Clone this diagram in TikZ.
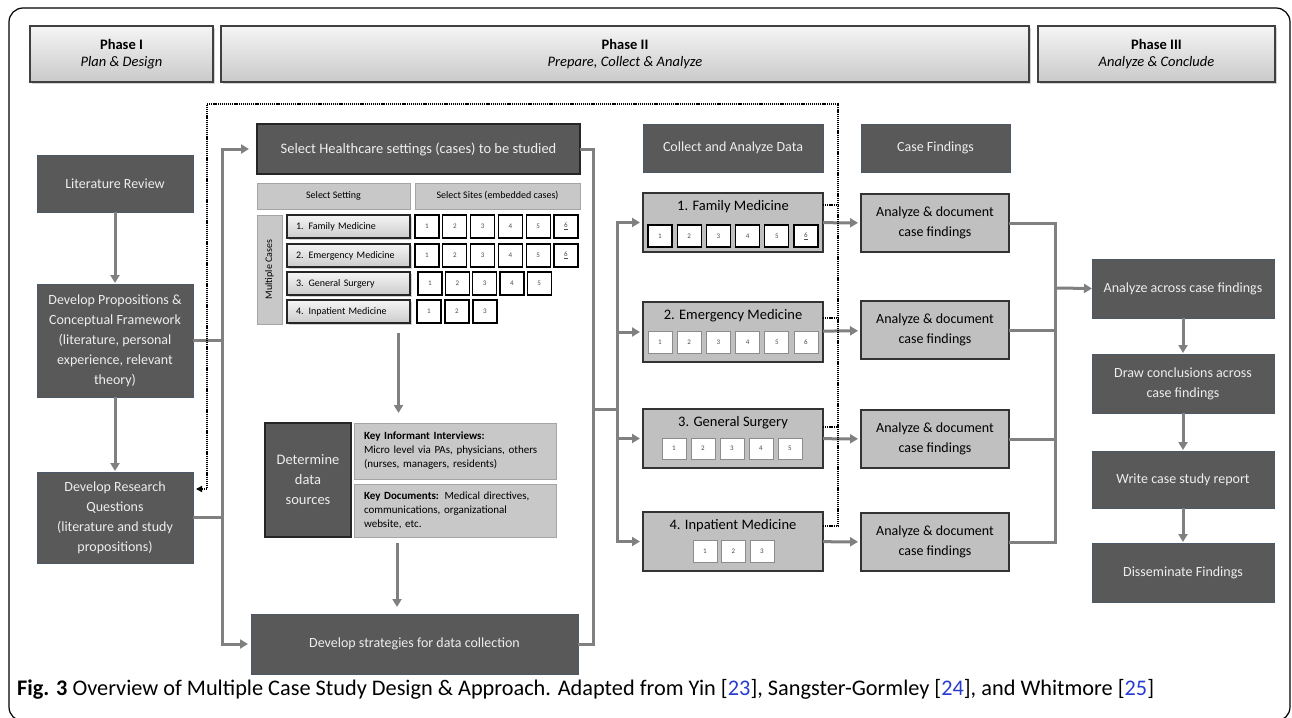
\documentclass[tikz,border=0pt]{standalone}
\usepackage{fontspec}
\setmainfont{Carlito}
\usetikzlibrary{arrows.meta,shadows,calc}
\definecolor{dk}{RGB}{89,89,89}
\definecolor{dkedge}{RGB}{75,88,104}
\definecolor{txtl}{RGB}{238,238,238}
\definecolor{lg}{RGB}{192,192,192}
\definecolor{lgtwo}{RGB}{200,200,200}
\definecolor{lgedge}{RGB}{165,165,165}
\definecolor{conncol}{RGB}{128,128,128}
\definecolor{refblue}{RGB}{40,60,210}
\begin{document}
\begin{tikzpicture}[x=1pt,y=-1pt,
  base/.style={inner sep=0pt, outer sep=0pt, align=center, anchor=north west},
  sz/.style 2 args={minimum width=#1pt, minimum height=#2pt},
  darkbox/.style={base, draw=dkedge, line width=0.8pt, fill=dk, text=txtl, font=\fontsize{14}{20}\selectfont},
  darkbk/.style={darkbox, draw=black!85, line width=1.4pt},
  phasebox/.style={base, draw=black!75, line width=1.2pt, top color=gray!8, bottom color=gray!42,
     drop shadow={opacity=0.35, shadow xshift=1.5pt, shadow yshift=-2pt}, font=\fontsize{14.5}{17.5}\selectfont},
  casebox/.style={base, draw=black!80, line width=1.3pt, fill=lg},
  selhead/.style={base, draw=lgedge, line width=0.8pt, fill=lgtwo, font=\fontsize{10}{11}\selectfont},
  btn/.style={base, draw=black!85, line width=1.4pt, top color=gray!8, bottom color=gray!40,
     drop shadow={opacity=0.35, shadow xshift=1.5pt, shadow yshift=-1.5pt},
     font=\fontsize{10}{12}\selectfont, align=left, text width=105pt, inner xsep=9pt, minimum height=23pt},
  sq/.style={base, draw=black, line width=1.3pt, fill=white, sz={24}{23}, font=\fontsize{7}{8}\selectfont, text=black!70},
  sqg/.style={sq, draw=black!45, line width=0.8pt, sz={24}{22}},
  conn/.style={draw=conncol, line width=3pt},
  arr/.style={conn, -{Triangle[length=8pt,width=9pt]}, shorten >=3pt},
  dots/.style={draw=black, line width=2pt, dash pattern=on 1.2pt off 0.9pt},
  info/.style={base, draw=lgedge, line width=0.8pt, fill=lgtwo, align=left, text width=182pt, inner xsep=10pt,
     font=\fontsize{11}{14}\selectfont}
]
\useasboundingbox (0,0) rectangle (1292,717);
\fill[white] (0,0) rectangle (1292,717);
\begin{scope}
\clip (0,0) rectangle (1292,717);
\draw[line width=1.2pt, rounded corners=14pt] (9,8) rectangle (1290,721);
\end{scope}

% phases
\node[phasebox, sz={183}{56}] (ph1) at (30,26) {\textbf{Phase I}\\\textit{Plan \& Design}};
\node[phasebox, sz={808}{56}] (ph2) at (221,26) {\textbf{Phase II}\\\textit{Prepare, Collect \& Analyze}};
\node[phasebox, sz={237}{56}] (ph3) at (1038,26) {\textbf{Phase III}\\\textit{Analyze \& Conclude}};

% phase I
\node[darkbox, sz={156}{57}] (lr) at (37,155) {Literature Review};
\node[darkbox, sz={156}{113}] (dp) at (37,284) {Develop Propositions \&\\Conceptual Framework\\(literature, personal\\experience, relevant\\theory)};
\node[darkbox, sz={156}{91}] (drq) at (37,472) {Develop Research\\Questions\\(literature and study\\propositions)};

% phase II left part
\node[darkbk, sz={323}{50}, font=\fontsize{14.5}{18}\selectfont] (sel) at (257,124) {Select Healthcare settings (cases) to be studied};
\node[selhead, sz={153}{26}] (selset) at (257,183) {Select Setting};
\node[selhead, sz={165}{26}] (selsites) at (415,183) {Select Sites (embedded cases)};
\node[selhead, sz={25}{109}] (mc) at (257,215) {};
\node[rotate=90, font=\fontsize{10}{11}\selectfont] (mct) at (mc.center) {Multiple Cases};
\node[btn] (s1) at (287,215) {1. Family Medicine};
\node[btn] (s2) at (287,244) {2. Emergency Medicine};
\node[btn] (s3) at (287,272) {3. General Surgery};
\node[btn] (s4) at (287,300) {4. Inpatient Medicine};
\foreach \i/\t in {1/1,2/2,3/3,4/4,5/5,6/{\underline{6}}}{
  \node[sq] (sa\i) at ({415+27.8*(\i-1)},215) {\t};
  \node[sq] (sb\i) at ({415+27.8*(\i-1)},244) {\t};
}
\foreach \i in {1,...,5}{\node[sq] (sc\i) at ({418+27.3*(\i-1)},272) {\i};}
\foreach \i in {1,...,3}{\node[sq] (sd\i) at ({417+28*(\i-1)},300) {\i};}

\node[darkbk, sz={86}{114}, font=\fontsize{14.5}{20}\selectfont] (dds) at (265,423) {Determine\\data\\sources};
\node[info, minimum height=56pt] (kii) at (354,423) {\textbf{Key Informant Interviews:}\\Micro level via PAs, physicians, others\\(nurses, managers, residents)};
\node[info, minimum height=53pt] (kd) at (354,484) {\textbf{Key Documents:} Medical directives,\\communications, organizational\\website, etc.};
\node[darkbox, sz={327}{60}] (dsc) at (251,614) {Develop strategies for data collection};

% phase II right part
\node[darkbox, sz={180}{48}] (cad) at (643,124) {Collect and Analyze Data};
\node[darkbox, sz={149}{48}] (cf) at (861,124) {Case Findings};

\node[casebox, sz={180}{59}] (fm) at (643,193) {};
\node[casebox, sz={180}{60}] (em) at (643,302) {};
\node[casebox, sz={180}{59}] (gs) at (643,409) {};
\node[casebox, sz={180}{59}] (ip) at (643,512) {};
\node[font=\fontsize{14.5}{17}\selectfont] (fmt) at ([yshift=-14pt]fm.north) {1. Family Medicine};
\node[font=\fontsize{14.5}{17}\selectfont] (emt) at ([yshift=-14pt]em.north) {2. Emergency Medicine};
\node[font=\fontsize{14.5}{17}\selectfont] (gst) at ([yshift=-14pt]gs.north) {3. General Surgery};
\node[font=\fontsize{14.5}{17}\selectfont] (ipt) at ([yshift=-14pt]ip.north) {4. Inpatient Medicine};
\foreach \i/\t in {1/1,2/2,3/3,4/4,5/5,6/{\underline{6}}}{
  \node[sq, sz={24}{22}, line width=1.1pt] (fq\i) at ({648+29.2*(\i-1)},225) {\t};
}
\foreach \i in {1,...,6}{
  \node[sqg] (eq\i) at ({648+29.2*(\i-1)},331) {\i};
}
\foreach \i in {1,...,5}{\node[sqg, sz={24}{21}] (gq\i) at ({662+29*(\i-1)},438) {\i};}
\foreach \i in {1,...,3}{\node[sqg] (iq\i) at ({693+28.5*(\i-1)},540) {\i};}

\node[casebox, sz={148}{58}, font=\fontsize{14}{20}\selectfont] (a1) at (861,194) {Analyze \& document\\case findings};
\node[casebox, sz={148}{58}, font=\fontsize{14}{20}\selectfont] (a2) at (861,301) {Analyze \& document\\case findings};
\node[casebox, sz={148}{58}, font=\fontsize{14}{20}\selectfont] (a3) at (861,410) {Analyze \& document\\case findings};
\node[casebox, sz={148}{58}, font=\fontsize{14}{20}\selectfont] (a4) at (861,513) {Analyze \& document\\case findings};

% phase III
\node[darkbox, sz={182}{59}] (aac) at (1092,259) {Analyze across case findings};
\node[darkbox, sz={182}{59}] (dc) at (1092,354) {Draw conclusions across\\case findings};
\node[darkbox, sz={182}{57}] (wcs) at (1092,451) {Write case study report};
\node[darkbox, sz={182}{59}] (df) at (1092,543) {Disseminate Findings};

% caption
\node[anchor=base west, inner sep=0pt, font=\fontsize{22.3}{26}\selectfont] (cap) at (17,695)
 {\textbf{Fig. 3} Overview of Multiple Case Study Design \& Approach. Adapted from Yin [\textcolor{refblue}{23}], Sangster-Gormley [\textcolor{refblue}{24}], and Whitmore [\textcolor{refblue}{25}]};

% coordinates
\coordinate (t1) at (222,149);
\coordinate (r1) at (593,409);
\coordinate (r2) at (617,409);
\coordinate (m) at (1055,288);
\coordinate (dx) at (838,104);
\coordinate (dl) at (207,104);

% phase I connectors
\draw[arr, shorten >=1pt] (lr) -- (dp);
\draw[arr, shorten >=1pt] (dp) -- (drq);
\draw[conn] (dp.east) -- (dp.east -| t1);
\draw[conn] (drq.east) -- (drq.east -| t1);
\draw[arr, shorten >=8pt] (drq.east -| t1) |- (sel.west);
\draw[arr] (dp.east -| t1) |- (dsc.west);

% phase II connectors
\draw[arr, shorten <=10pt, shorten >=10pt] ([xshift=50pt]s4.south) -- ([xshift=50pt]s4.south |- kii.north);
\draw[arr, shorten <=6pt, shorten >=7pt] ([xshift=-58pt]kd.south) -- ([xshift=-58pt]kd.south |- dsc.north);
\draw[conn] (sel.east) -| (r1) |- (dsc.east);
\draw[conn] (r1) -- (r2);
\draw[arr] (r2) |- (fm.west);
\draw[arr] (r2) |- (em.west);
\draw[arr] (r2) |- (gs.west);
\draw[arr] (r2) |- (ip.west);
\draw[arr] (fm) -- (a1);
\draw[arr] (em) -- (a2);
\draw[arr] (gs) -- (a3);
\draw[arr] (ip) -- (a4);

% to phase III
\draw[conn] (a1.east) -| (m);
\draw[conn] (a4.east) -| (m);
\draw[conn] (a2.east) -- (a2.east -| m);
\draw[conn] (a3.east) -- (a3.east -| m);
\draw[arr, shorten >=0pt] (m) -- (aac.west);
\draw[arr, shorten >=1pt] (aac) -- (dc);
\draw[arr, shorten >=1pt] (dc) -- (wcs);
\draw[arr, shorten >=1pt] (wcs) -- (df);

% dotted feedback
\draw[dots] ([yshift=-12pt]fm.north east) -- ([yshift=-12pt]fm.north east -| dx);
\draw[dots] ([yshift=-16pt]em.north east) -- ([yshift=-16pt]em.north east -| dx);
\draw[dots] ([yshift=-18pt]gs.north east) -- ([yshift=-18pt]gs.north east -| dx);
\draw[dots, -{Triangle[length=6pt,width=6pt]}, shorten >=3pt]
  ([yshift=-14pt]ip.north east) -| (dx) -- (dl) |- ([yshift=-17pt]drq.north east);
\end{tikzpicture}
\end{document}
